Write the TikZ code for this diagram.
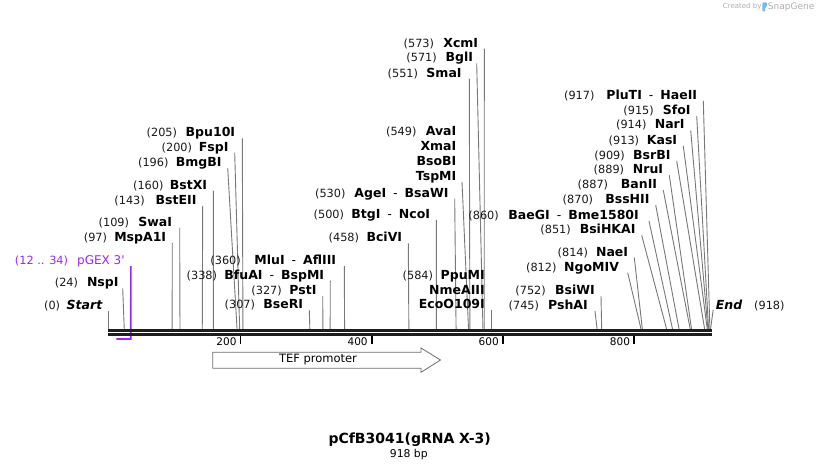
\documentclass[tikz,border=0pt]{standalone}
\usepackage{fontspec}
\setmainfont{DejaVu Sans}[Ligatures=TeXOff]
\definecolor{pg}{RGB}{155,40,240}
\definecolor{lnc}{RGB}{120,120,120}
\definecolor{bbc}{RGB}{30,30,30}
\definecolor{numc}{RGB}{25,25,25}
\definecolor{wmg}{RGB}{175,175,175}
\definecolor{wmb}{RGB}{120,185,235}
\definecolor{featc}{RGB}{110,110,110}
\tikzset{
  numlab/.style={inner sep=0pt, text=numc, font=\fontsize{11.3}{13}\selectfont},
  namelab/.style={inner sep=0pt, text=black, font=\fontsize{12.5}{14}\selectfont\bfseries},
  cutline/.style={draw=lnc, line width=0.9pt},
  pgline/.style={draw=pg, line width=1.6pt},
  bbline/.style={draw=bbc, line width=2.6pt},
  tickline/.style={draw=black, line width=1.8pt},
  axlab/.style={inner sep=0pt, text=black, font=\fontsize{10.5}{12}\selectfont},
  featshape/.style={draw=featc, line width=0.8pt, fill=white},
}
\newcommand\dsh{\hspace{7pt}{\mdseries -}\hspace{7pt}}
% [dx]{pos}{number right x}{line start x}{centre y}{name}
\newcommand\rzenz[6][6]{%
  \coordinate (s#2) at ({108.5+0.6558*#2},329);
  \node[numlab,anchor=base east] (u#2) at (#3,{#5+4.5}) {(#2)};
  \node[namelab,anchor=base east] (n#2) at ({#4-#1},{#5+4.5}) {#6};
  \draw[cutline] ([shift={(#1,1.5)}]n#2.base east) -- (s#2);
}
\begin{document}
\begin{tikzpicture}[x=1pt,y=-1pt]
\useasboundingbox (0,0) rectangle (820,468);
\fill[white] (0,0) rectangle (820,468);

% pGEX 3' feature
\coordinate (f34) at ({108.5+0.6558*34},339);
\coordinate (f12) at ({108.5+0.6558*12},339);
\node[numlab, text=pg, anchor=base east] (upg) at (68.3,264.5) {(12 .. 34)};
\node[inner sep=0pt, text=pg, font=\fontsize{12}{14}\selectfont, anchor=base east] (npg) at (124.8,264.5) {pGEX 3'};
\draw[pgline] ([shift={(6,1.5)}]npg.base east) -- (f34) -- (f12);

% left group
\rzenz{0}{60.3}{108.5}{305}{\itshape Start}
\rzenz[4]{24}{78.3}{122.7}{282.3}{NspI}
\rzenz{97}{107.3}{172.3}{237}{MspA1I}
\rzenz[7.5]{109}{129.3}{179.7}{221.7}{SwaI}
\rzenz{143}{145}{202.7}{200}{BstEII}
\rzenz{160}{163.7}{213.3}{184.7}{BstXI}
\rzenz{196}{168.7}{227.7}{162}{BmgBI}
\rzenz{200}{192.3}{234.7}{146.7}{FspI}
\rzenz[7]{205}{177.3}{242.3}{132.3}{Bpu10I}

% middle group
\rzenz{307}{255.3}{309.3}{304.3}{BseRI}
\rzenz{327}{282}{322.7}{290}{PstI}
\rzenz{338}{217.3}{330.3}{274.7}{BfuAI\dsh BspMI}
\rzenz[8]{360}{241}{344.3}{260}{MluI\dsh AflIII}
\rzenz{458}{359.3}{408.3}{237.3}{BciVI}
\rzenz{500}{344.3}{436.3}{214}{BtgI\dsh NcoI}
\rzenz{530}{345.7}{454.7}{192.7}{AgeI\dsh BsaWI}
\rzenz[7.5]{551}{418.3}{469.3}{72.7}{SmaI}
\rzenz[3.5]{571}{437}{476.7}{57.3}{BglI}
\rzenz{573}{434.3}{484.3}{42.7}{XcmI}

% stack at 549
\coordinate (s549) at ({108.5+0.6558*549},329);
\node[numlab,anchor=base east] (u549) at (416.7,135.5) {(549)};
\node[namelab,anchor=base east] (n549a) at (456.5,135.5) {AvaI};
\node[namelab,anchor=base east] (n549b) at (456.5,150.5) {XmaI};
\node[namelab,anchor=base east] (n549c) at (456.5,165.5) {BsoBI};
\node[namelab,anchor=base east] (n549d) at (456.5,180.5) {TspMI};
\draw[cutline] ([shift={(5.5,1.5)}]n549d.base east) -- (s549);

% stack at 584
\coordinate (s584) at ({108.5+0.6558*584},329);
\node[numlab,anchor=base east] (u584) at (433.3,279.5) {(584)};
\node[namelab,anchor=base east] (n584a) at (485,279.5) {PpuMI};
\node[namelab,anchor=base east] (n584b) at (485,294) {NmeAIII};
\node[namelab,anchor=base east] (n584c) at (485,308.5) {EcoO109I};
\draw[cutline] ([shift={(6.5,1.5)}]n584c.base east) -- (s584);

% right group
\rzenz[7]{745}{539.3}{595}{305}{PshAI}
\rzenz{752}{546}{601}{290}{BsiWI}
\rzenz[8.5]{812}{556.7}{627.7}{266.7}{NgoMIV}
\rzenz{814}{588.3}{634.3}{251.7}{NaeI}
\rzenz{851}{571}{641.7}{229.3}{BsiHKAI}
\rzenz[10]{860}{499}{649}{215}{BaeGI\dsh Bme1580I}
\rzenz{870}{593.3}{655.7}{199}{BssHII}
\rzenz{887}{608.3}{663.3}{184.3}{BanII}
\rzenz{889}{624.3}{669.3}{169.3}{NruI}
\rzenz{909}{625}{676.7}{155}{BsrBI}
\rzenz{913}{639.3}{683.3}{140}{KasI}
\rzenz{914}{646.7}{690.7}{124.3}{NarI}
\rzenz{915}{654}{696.7}{110}{SfoI}
\rzenz{917}{594.7}{703.3}{95}{PluTI\dsh HaeII}

% End
\coordinate (s918) at ({108.5+0.6558*918},329);
\node[namelab,anchor=base west] (n918) at (715.7,309.8) {\itshape End};
\node[numlab,anchor=base west] (u918) at (754,309.8) {(918)};
\draw[cutline] ([shift={(-2.5,0)}]n918.base west) -- (s918);

% backbone
\coordinate (ba) at (108,330.3);
\coordinate (bb) at (711.5,330.3);
\coordinate (bc) at (108,334.3);
\coordinate (bd) at (711.5,334.3);
\draw[bbline] (ba) -- (bb);
\draw[bbline] (bc) -- (bd);

% ticks
\foreach \t in {200,400,600,800}{
  \coordinate (t\t) at ({108.5+0.6558*\t+0.8},336);
  \draw[tickline] (t\t) -- ++(0,8);
  \node[axlab,anchor=base east] (ax\t) at ({108.5+0.6558*\t-3},345.5) {\t};
}

% TEF promoter
\draw[featshape] (212.7,352.3) -- (421,352.3) -- (421,348) -- (440.5,360) -- (421,372.3) -- (421,368.3) -- (212.7,368.3) -- cycle;
\node[inner sep=0pt, font=\fontsize{11.5}{13}\selectfont] (tef) at (318,360) {TEF promoter};

% title
\node[inner sep=0pt, font=\fontsize{14}{16}\selectfont\bfseries, anchor=base] (title) at (409.7,443.4) {pCfB3041(gRNA X-3)};
\node[inner sep=0pt, font=\fontsize{10.8}{12}\selectfont, anchor=base] (len) at (408.8,457.2) {918 bp};

% watermark
\node[inner sep=0pt, text=wmg, font=\fontsize{7}{8}\selectfont, anchor=base west] (wm1) at (722.7,8.5) {Created by};
\fill[wmb, rounded corners=1pt] (762.3,2.5) -- (767,2.5) -- (767,6.5) -- (765,7.8) -- (765,11.5) -- (762.3,11.5) -- cycle;
\node[inner sep=0pt, text=wmg, font=\fontsize{9}{10}\selectfont, anchor=base west] (wm2) at (767.7,9.4) {SnapGene};
\end{tikzpicture}
\end{document}
